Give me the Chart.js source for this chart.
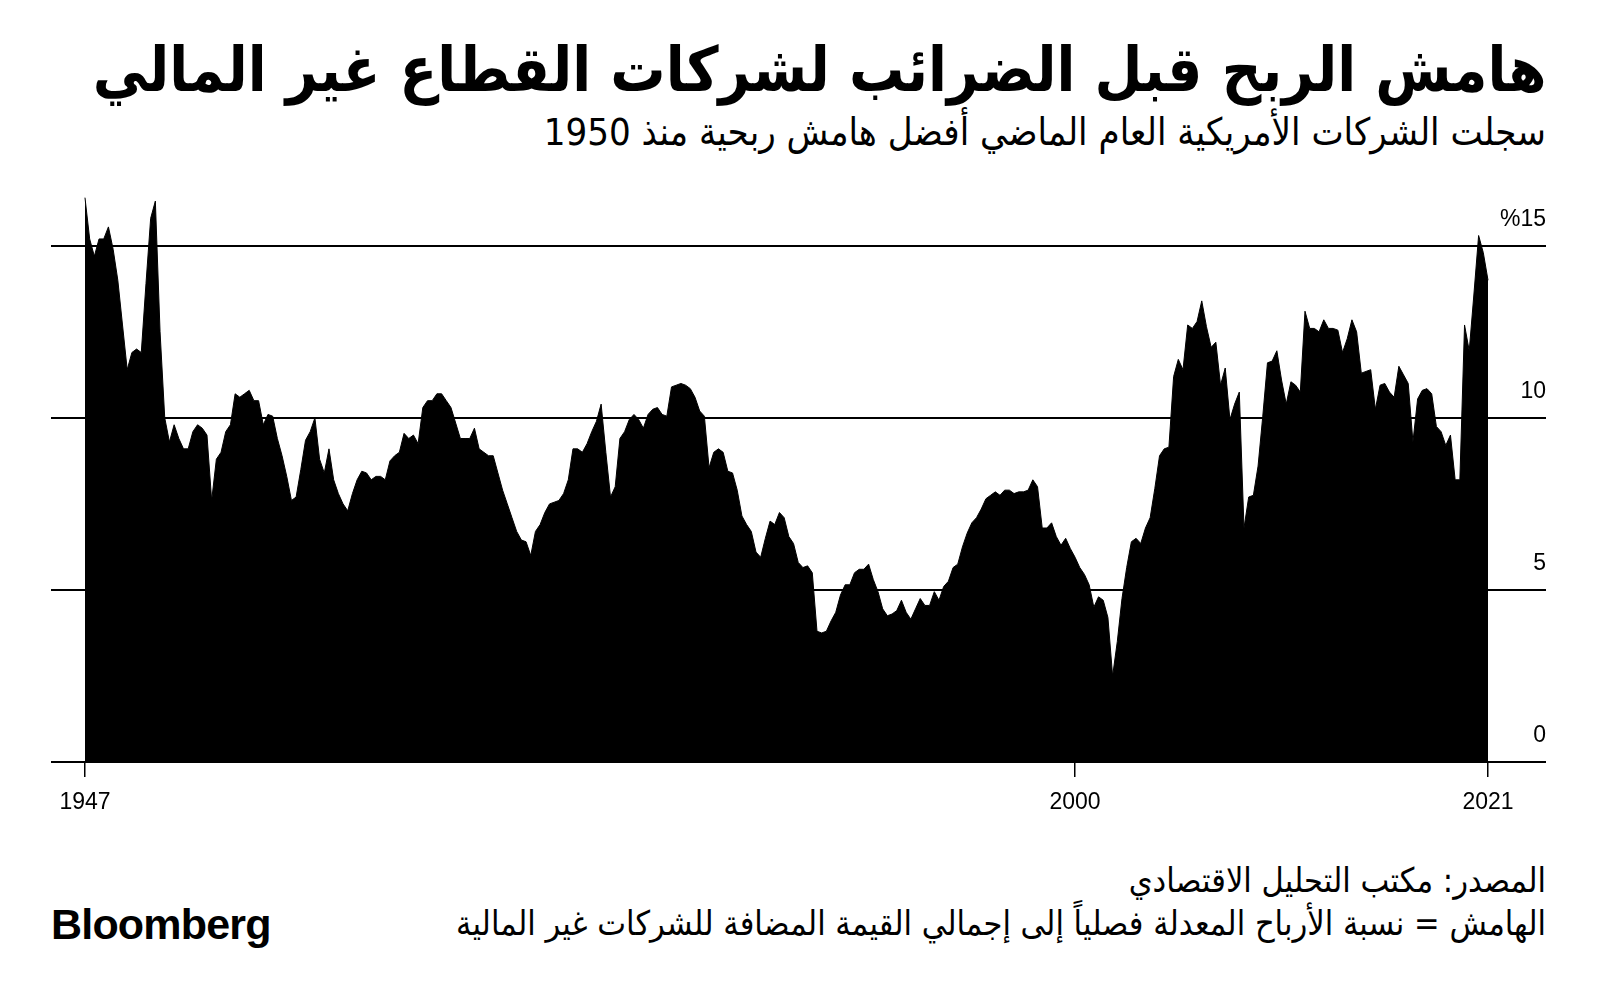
<!DOCTYPE html>
<html lang="ar">
<head>
<meta charset="utf-8">
<title>هامش الربح قبل الضرائب</title>
<script src="https://cdn.jsdelivr.net/npm/chart.js@4.4.1/dist/chart.umd.min.js"></script>
<style>
  html, body { margin: 0; padding: 0; background: #fff; width: 1600px; height: 1001px; overflow: hidden; }
  .txt { position: absolute; right: 54px; direction: rtl; text-align: right; color: #000; white-space: nowrap; }
  #title { top: 33px; font: bold 62px 'DejaVu Sans', sans-serif; letter-spacing: -1px; transform: scaleX(0.89); transform-origin: right center; }
  #subtitle { top: 110px; font: 38px 'DejaVu Sans Condensed', 'DejaVu Sans', sans-serif; }
  #source { top: 860px; font: 34px 'DejaVu Sans Condensed', 'DejaVu Sans', sans-serif; }
  #note { top: 903px; font: 34px 'DejaVu Sans Condensed', 'DejaVu Sans', sans-serif; }
  #logo { position: absolute; left: 51px; top: 900px; font: bold 43px 'Liberation Sans', Arial, sans-serif; letter-spacing: -0.8px; color: #000; }
  #chartBox { position: absolute; left: 0; top: 160px; width: 1600px; height: 662px; }
</style>
</head>
<body>
<div id="title" class="txt">هامش الربح قبل الضرائب لشركات القطاع غير المالي</div>
<div id="subtitle" class="txt">سجلت الشركات الأمريكية العام الماضي أفضل هامش ربحية منذ 1950</div>
<div id="chartBox"><canvas id="marginChart" width="1600" height="662"></canvas></div>
<div id="source" class="txt">المصدر: مكتب التحليل الاقتصادي</div>
<div id="note" class="txt">الهامش = نسبة الأرباح المعدلة فصلياً إلى إجمالي القيمة المضافة للشركات غير المالية</div>
<div id="logo">Bloomberg</div>

<script>
// هامش الربح الفصلي (%) — من الربع الأول 1947 حتى الربع الرابع 2021
const START_YEAR = 1947;

const m1947 = [16.4, 15.2, 14.7, 15.2, 15.2, 15.55, 14.9, 14.0, 12.7, 11.4,
               11.9, 12.0, 11.9, 13.9, 15.8, 16.3, 12.5, 10.0, 9.3, 9.8,
               9.4, 9.1, 9.1, 9.6, 9.8, 9.7, 9.5, 7.6, 8.8, 9.0,
               9.6, 9.8, 10.7, 10.6, 10.7, 10.8, 10.5, 10.5, 9.8, 10.1,
               10.05, 9.4, 8.9, 8.3, 7.6, 7.7, 8.5, 9.35, 9.6, 10.0];
const m1959 = [8.8, 8.4, 9.1, 8.2, 7.8, 7.5, 7.3, 7.8, 8.2, 8.45,
               8.4, 8.2, 8.3, 8.3, 8.2, 8.75, 8.9, 9.0, 9.55, 9.4,
               9.5, 9.25, 10.3, 10.5, 10.5, 10.7, 10.7, 10.5, 10.3, 9.85,
               9.4, 9.4, 9.4, 9.7, 9.1, 9.0, 8.9, 8.9, 8.4, 7.9,
               7.5, 7.1, 6.7, 6.45, 6.4, 6.0, 6.7, 6.9, 7.25, 7.5];
const m1972 = [7.55, 7.6, 7.8, 8.2, 9.1, 9.1, 9.0, 9.25, 9.6, 9.9,
               10.4, 9.0, 7.7, 8.0, 9.4, 9.6, 9.95, 10.1, 9.95, 9.7,
               10.1, 10.25, 10.3, 10.1, 10.05, 10.9, 10.95, 11.0, 10.95, 10.85,
               10.6, 10.2, 10.05, 8.55, 9.0, 9.1, 9.0, 8.45, 8.4, 7.9,
               7.15, 6.9, 6.7, 6.1, 5.95, 6.5, 7.0, 6.9, 7.25, 7.1];
const m1984 = [6.55, 6.35, 5.8, 5.65, 5.7, 5.5, 3.8, 3.75, 3.8, 4.1,
               4.35, 4.85, 5.15, 5.15, 5.5, 5.6, 5.6, 5.75, 5.3, 4.95,
               4.45, 4.25, 4.3, 4.4, 4.7, 4.35, 4.15, 4.45, 4.75, 4.55,
               4.55, 4.95, 4.7, 5.1, 5.25, 5.65, 5.75, 6.25, 6.65, 6.95,
               7.1, 7.35, 7.65, 7.75, 7.85, 7.75, 7.9, 7.9, 7.8, 7.85];
const m1997 = [7.85, 7.9, 8.2, 8.0, 6.8, 6.8, 6.95, 6.55, 6.3, 6.5,
               6.2, 5.95, 5.65, 5.45, 5.15, 4.5, 4.8, 4.7, 4.2, 2.5,
               3.5, 4.75, 5.65, 6.4, 6.5, 6.35, 6.8, 7.1, 7.95, 8.9,
               9.1, 9.15, 11.2, 11.7, 11.4, 12.7, 12.6, 12.8, 13.4, 12.65,
               12.05, 12.2, 10.95, 11.45, 9.95, 10.4, 10.75, 6.8, 7.7, 7.75];
const m2009 = [8.6, 10.05, 11.6, 11.65, 11.95, 11.1, 10.4, 11.05, 10.95, 10.75,
               13.1, 12.6, 12.6, 12.5, 12.85, 12.6, 12.6, 12.55, 11.9, 12.3,
               12.85, 12.5, 11.3, 11.35, 11.4, 10.25, 10.95, 11.0, 10.75, 10.6,
               11.5, 11.25, 11.0, 9.3, 10.55, 10.8, 10.85, 10.7, 9.75, 9.6,
               9.2, 9.5, 8.2, 8.2, 12.7, 11.95, 13.6, 15.3, 14.8, 14.0];

const margin = [...m1947, ...m1959, ...m1972, ...m1984, ...m1997, ...m2009];

// محور السنوات والمحور الرأسي
const xTickValues = [1947, 1999.75, 2021.75];
const xTickLabels = ['1947', '2000', '2021'];
const yTickValues = [0, 5, 10, 15];
const yTickLabels = ['0', '5', '10', '%15'];

const points = margin.map((v, i) => ({ x: START_YEAR + i / 4, y: v }));

const ctx = document.getElementById('marginChart').getContext('2d');
new Chart(ctx, {
    type: 'line',
    data: {
        datasets: [{
            data: points,
            fill: 'origin',
            backgroundColor: '#000',
            borderColor: '#000',
            borderWidth: 1,
            pointRadius: 0,
            tension: 0
        }]
    },
    options: {
        responsive: false,
        animation: false,
        layout: { padding: { left: 51, right: 54, top: 17, bottom: 0 } },
        plugins: {
            legend: { display: false },
            tooltip: { enabled: false }
        },
        scales: {
            x: {
                type: 'linear',
                min: 1945.19,
                max: 2024.84,
                afterBuildTicks: s => { s.ticks = xTickValues.map(v => ({ value: v })); },
                afterFit: s => { s.height = 60; },
                ticks: {
                    autoSkip: false,
                    maxRotation: 0,
                    padding: 12,
                    color: '#000',
                    font: { family: 'Liberation Sans', size: 23 },
                    callback: (v) => xTickLabels[xTickValues.indexOf(v)]
                },
                grid: { drawOnChartArea: false, drawTicks: true, tickLength: 15, color: '#000', lineWidth: 1.5 },
                border: { display: false }
            },
            y: {
                position: 'right',
                min: 0,
                max: 17,
                afterBuildTicks: s => { s.ticks = yTickValues.map(v => ({ value: v })); },
                afterFit: s => { s.width = 0; },
                ticks: {
                    mirror: true,
                    padding: 0,
                    labelOffset: -26,
                    color: '#000',
                    font: { family: 'Liberation Sans', size: 23 },
                    callback: (v) => yTickLabels[yTickValues.indexOf(v)]
                },
                grid: { color: '#000', lineWidth: 2, drawTicks: false },
                border: { display: false }
            }
        }
    }
});
</script>
</body>
</html>
